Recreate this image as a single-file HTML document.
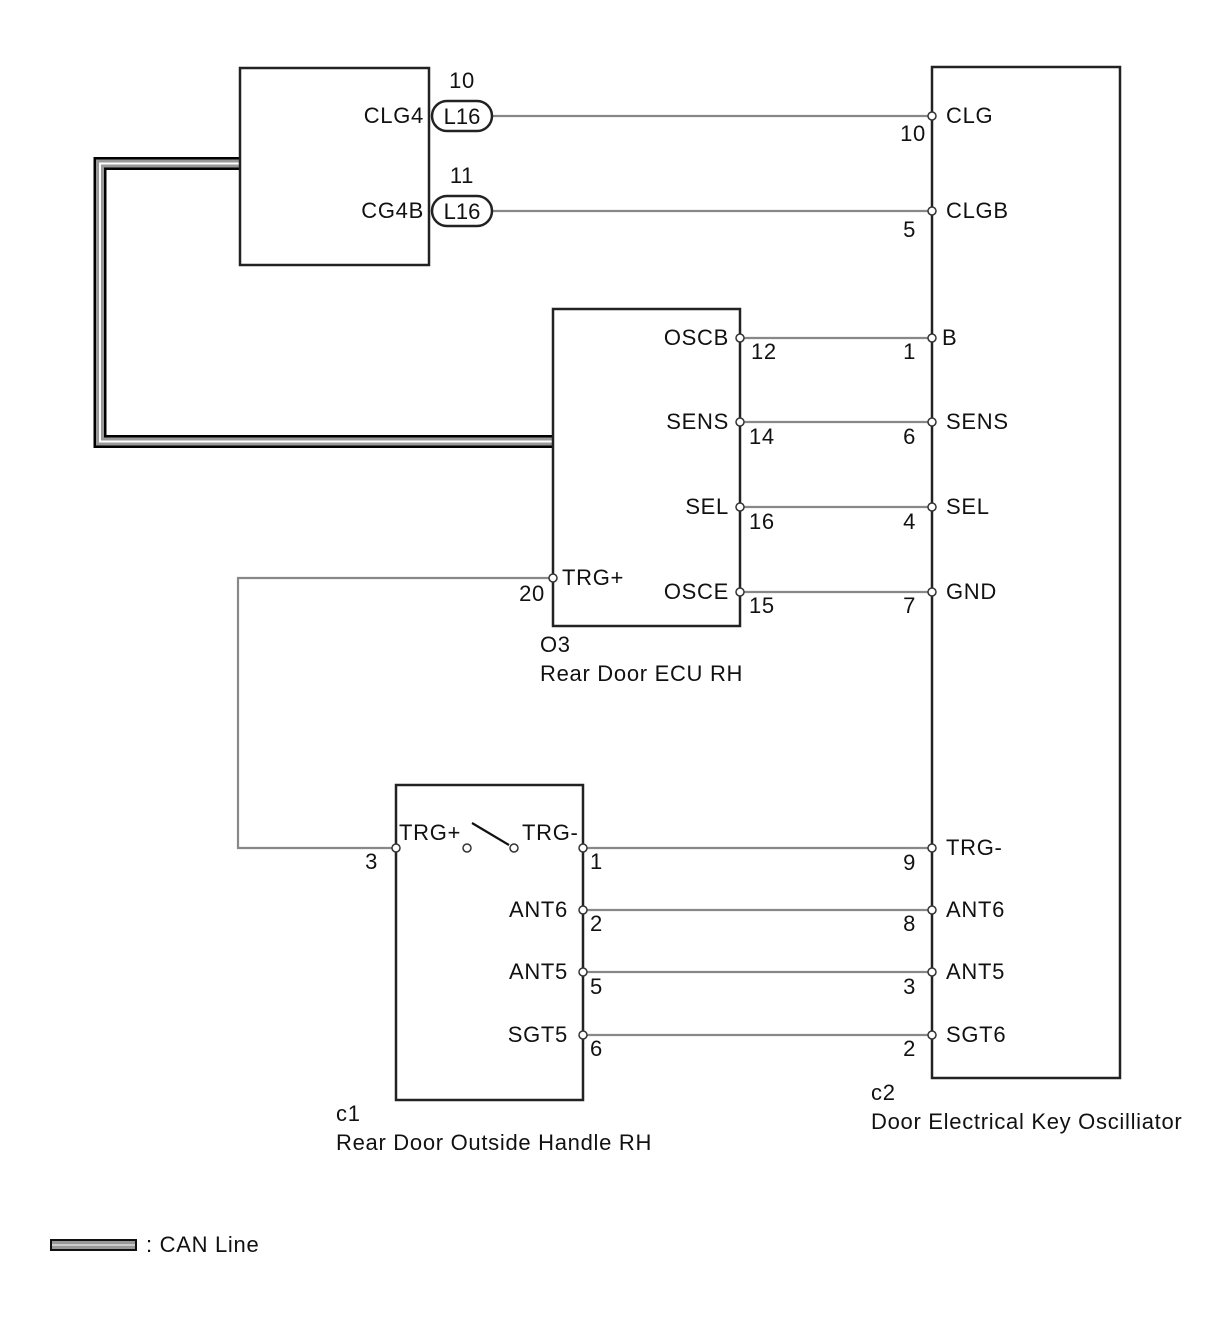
<!DOCTYPE html>
<html><head><style>body{margin:0;background:#fff}svg{display:block}text{font-family:"Liberation Sans",Arial,sans-serif;font-size:22px;letter-spacing:0.7px;fill:#111}</style></head><body>
<svg width="1210" height="1328" viewBox="0 0 1210 1328">
<g stroke="#888" stroke-width="2.2" fill="none">
<line x1="492" y1="116" x2="932" y2="116"/>
<line x1="492" y1="211" x2="932" y2="211"/>
<line x1="740" y1="338" x2="932" y2="338"/>
<line x1="740" y1="422" x2="932" y2="422"/>
<line x1="740" y1="507" x2="932" y2="507"/>
<line x1="740" y1="592" x2="932" y2="592"/>
<polyline points="553,578 238,578 238,848 467,848"/>
<line x1="514" y1="848" x2="932" y2="848"/>
<line x1="583" y1="910" x2="932" y2="910"/>
<line x1="583" y1="972" x2="932" y2="972"/>
<line x1="583" y1="1035" x2="932" y2="1035"/>
</g>
<g fill="none" stroke-linejoin="miter">
<polyline points="240,163.5 100,163.5 100,441.5 553,441.5" stroke="#000" stroke-width="13"/>
<polyline points="240,163.5 100,163.5 100,441.5 553,441.5" stroke="#999" stroke-width="8"/>
<polyline points="240,163.5 100,163.5 100,441.5 553,441.5" stroke="#fff" stroke-width="2"/>
</g>
<g stroke="#222" stroke-width="2.5" fill="#fff">
<rect x="240" y="68" width="189" height="197"/>
<rect x="932" y="67" width="188" height="1011"/>
<rect x="553" y="309" width="187" height="317"/>
<rect x="396" y="785" width="187" height="315"/>
<rect x="432" y="101" width="60" height="30" rx="15"/>
<rect x="432" y="196" width="60" height="30" rx="15"/>
</g>
<line x1="472" y1="823" x2="509" y2="845" stroke="#111" stroke-width="2.2"/>
<g stroke="#333" stroke-width="1.5" fill="#fff">
<circle cx="932" cy="116" r="4"/><circle cx="932" cy="211" r="4"/><circle cx="932" cy="338" r="4"/><circle cx="932" cy="422" r="4"/><circle cx="932" cy="507" r="4"/><circle cx="932" cy="592" r="4"/><circle cx="932" cy="848" r="4"/><circle cx="932" cy="910" r="4"/><circle cx="932" cy="972" r="4"/><circle cx="932" cy="1035" r="4"/>
<circle cx="740" cy="338" r="4"/><circle cx="740" cy="422" r="4"/><circle cx="740" cy="507" r="4"/><circle cx="740" cy="592" r="4"/><circle cx="553" cy="578" r="4"/>
<circle cx="583" cy="848" r="4"/><circle cx="583" cy="910" r="4"/><circle cx="583" cy="972" r="4"/><circle cx="583" cy="1035" r="4"/><circle cx="396" cy="848" r="4"/>
<circle cx="467" cy="848" r="4"/><circle cx="514" cy="848" r="4"/>
</g>
<g>
<text x="462" y="88" text-anchor="middle">10</text>
<text x="462" y="183" text-anchor="middle">11</text>
<text x="462" y="124" text-anchor="middle" style="letter-spacing:0">L16</text>
<text x="462" y="219" text-anchor="middle" style="letter-spacing:0">L16</text>
<text x="424" y="123" text-anchor="end">CLG4</text>
<text x="424" y="218" text-anchor="end">CG4B</text>
<text x="946" y="123">CLG</text><text x="926" y="141" text-anchor="end">10</text>
<text x="946" y="218">CLGB</text><text x="916" y="237" text-anchor="end">5</text>
<text x="942" y="345">B</text><text x="916" y="359" text-anchor="end">1</text>
<text x="946" y="429">SENS</text><text x="916" y="444" text-anchor="end">6</text>
<text x="946" y="514">SEL</text><text x="916" y="529" text-anchor="end">4</text>
<text x="946" y="599">GND</text><text x="916" y="613" text-anchor="end">7</text>
<text x="946" y="855">TRG-</text><text x="916" y="870" text-anchor="end">9</text>
<text x="946" y="917">ANT6</text><text x="916" y="931" text-anchor="end">8</text>
<text x="946" y="979">ANT5</text><text x="916" y="994" text-anchor="end">3</text>
<text x="946" y="1042">SGT6</text><text x="916" y="1056" text-anchor="end">2</text>
<text x="729" y="345" text-anchor="end">OSCB</text><text x="751" y="359">12</text>
<text x="729" y="429" text-anchor="end">SENS</text><text x="749" y="444">14</text>
<text x="729" y="514" text-anchor="end">SEL</text><text x="749" y="529">16</text>
<text x="729" y="599" text-anchor="end">OSCE</text><text x="749" y="613">15</text>
<text x="562" y="585">TRG+</text><text x="545" y="601" text-anchor="end">20</text>
<text x="540" y="652">O3</text><text x="540" y="681">Rear Door ECU RH</text>
<text x="399" y="840">TRG+</text><text x="522" y="840">TRG-</text>
<text x="378" y="869" text-anchor="end">3</text>
<text x="590" y="869">1</text>
<text x="568" y="917" text-anchor="end">ANT6</text><text x="590" y="931">2</text>
<text x="568" y="979" text-anchor="end">ANT5</text><text x="590" y="994">5</text>
<text x="568" y="1042" text-anchor="end">SGT5</text><text x="590" y="1056">6</text>
<text x="336" y="1121">c1</text><text x="336" y="1150">Rear Door Outside Handle RH</text>
<text x="871" y="1100">c2</text><text x="871" y="1129">Door Electrical Key Oscilliator</text>
</g>
<rect x="51" y="1240" width="85" height="10" fill="#999" stroke="#111" stroke-width="2"/>
<line x1="52" y1="1245" x2="135" y2="1245" stroke="#fff" stroke-width="1"/>
<text x="146" y="1252">: CAN Line</text>
</svg>
</body></html>
